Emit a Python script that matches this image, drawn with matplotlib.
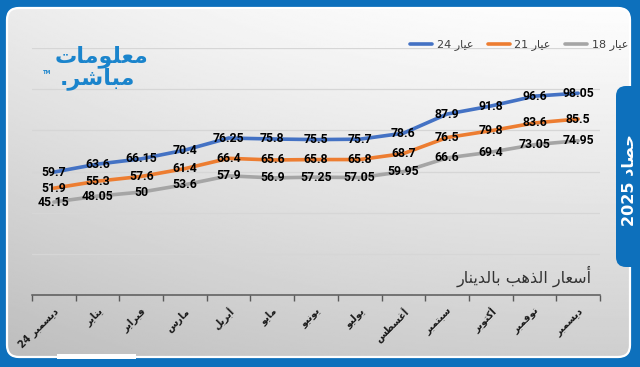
import numpy as np
import matplotlib
matplotlib.use("Agg")
import matplotlib.pyplot as plt
from matplotlib.patches import FancyBboxPatch, Rectangle

# ---------------- data ----------------
months = ["ديسمبر 24", "يناير", "فبراير", "مارس", "أبريل", "مايو", "يونيو",
          "يوليو", "أغسطس", "سبتمبر", "أكتوبر", "نوفمبر", "ديسمبر"]
series_names = ["عيار 24", "عيار 21", "عيار 18"]
k24 = [59.7, 63.6, 66.15, 70.4, 76.25, 75.8, 75.5, 75.7, 78.6, 87.9, 91.8, 96.6, 98.05]
k21 = [51.9, 55.3, 57.6, 61.4, 66.4, 65.6, 65.8, 65.8, 68.7, 76.5, 79.8, 83.6, 85.5]
k18 = [45.15, 48.05, 50, 53.6, 57.9, 56.9, 57.25, 57.05, 59.95, 66.6, 69.4, 73.05, 74.95]
title = "أسعار الذهب بالدينار"
tab_text = "حصاد 2025"
logo1 = "معلومات"
logo2 = "مباشر."
colors = ["#4472C4", "#ED7D31", "#A5A5A5"]

# ---------------- minimal Arabic shaping ----------------
FORMS = {
    '\u0621': ('\uFE80', None, None, None),
    '\u0622': ('\uFE81', '\uFE82', None, None),
    '\u0623': ('\uFE83', '\uFE84', None, None),
    '\u0624': ('\uFE85', '\uFE86', None, None),
    '\u0625': ('\uFE87', '\uFE88', None, None),
    '\u0626': ('\uFE89', '\uFE8A', '\uFE8B', '\uFE8C'),
    '\u0627': ('\uFE8D', '\uFE8E', None, None),
    '\u0628': ('\uFE8F', '\uFE90', '\uFE91', '\uFE92'),
    '\u0629': ('\uFE93', '\uFE94', None, None),
    '\u062A': ('\uFE95', '\uFE96', '\uFE97', '\uFE98'),
    '\u062B': ('\uFE99', '\uFE9A', '\uFE9B', '\uFE9C'),
    '\u062C': ('\uFE9D', '\uFE9E', '\uFE9F', '\uFEA0'),
    '\u062D': ('\uFEA1', '\uFEA2', '\uFEA3', '\uFEA4'),
    '\u062E': ('\uFEA5', '\uFEA6', '\uFEA7', '\uFEA8'),
    '\u062F': ('\uFEA9', '\uFEAA', None, None),
    '\u0630': ('\uFEAB', '\uFEAC', None, None),
    '\u0631': ('\uFEAD', '\uFEAE', None, None),
    '\u0632': ('\uFEAF', '\uFEB0', None, None),
    '\u0633': ('\uFEB1', '\uFEB2', '\uFEB3', '\uFEB4'),
    '\u0634': ('\uFEB5', '\uFEB6', '\uFEB7', '\uFEB8'),
    '\u0635': ('\uFEB9', '\uFEBA', '\uFEBB', '\uFEBC'),
    '\u0636': ('\uFEBD', '\uFEBE', '\uFEBF', '\uFEC0'),
    '\u0637': ('\uFEC1', '\uFEC2', '\uFEC3', '\uFEC4'),
    '\u0638': ('\uFEC5', '\uFEC6', '\uFEC7', '\uFEC8'),
    '\u0639': ('\uFEC9', '\uFECA', '\uFECB', '\uFECC'),
    '\u063A': ('\uFECD', '\uFECE', '\uFECF', '\uFED0'),
    '\u0641': ('\uFED1', '\uFED2', '\uFED3', '\uFED4'),
    '\u0642': ('\uFED5', '\uFED6', '\uFED7', '\uFED8'),
    '\u0643': ('\uFED9', '\uFEDA', '\uFEDB', '\uFEDC'),
    '\u0644': ('\uFEDD', '\uFEDE', '\uFEDF', '\uFEE0'),
    '\u0645': ('\uFEE1', '\uFEE2', '\uFEE3', '\uFEE4'),
    '\u0646': ('\uFEE5', '\uFEE6', '\uFEE7', '\uFEE8'),
    '\u0647': ('\uFEE9', '\uFEEA', '\uFEEB', '\uFEEC'),
    '\u0648': ('\uFEED', '\uFEEE', None, None),
    '\u0649': ('\uFEEF', '\uFEF0', None, None),
    '\u064A': ('\uFEF1', '\uFEF2', '\uFEF3', '\uFEF4'),
}
LAM_ALEF = {'\u0622': ('\uFEF5', '\uFEF6'), '\u0623': ('\uFEF7', '\uFEF8'),
            '\u0625': ('\uFEF9', '\uFEFA'), '\u0627': ('\uFEFB', '\uFEFC')}


def _dual(c):
    return c in FORMS and FORMS[c][2] is not None


def _shape(word):
    out = []
    i = 0
    n = len(word)
    while i < n:
        c = word[i]
        if c not in FORMS:
            out.append(c)
            i += 1
            continue
        prev = word[i - 1] if i > 0 else ''
        cp = _dual(prev)
        if c == '\u0644' and i + 1 < n and word[i + 1] in LAM_ALEF:
            out.append(LAM_ALEF[word[i + 1]][1 if cp else 0])
            i += 2
            continue
        nxt = word[i + 1] if i + 1 < n else ''
        cn = _dual(c) and nxt in FORMS
        iso, fin, ini, med = FORMS[c]
        if cp and cn:
            out.append(med)
        elif cp:
            out.append(fin)
        elif cn:
            out.append(ini)
        else:
            out.append(iso)
        i += 1
    return ''.join(out)


def ar(text):
    vis = []
    for t in text.split(' '):
        if any(ch in FORMS for ch in t):
            vis.append(_shape(t)[::-1])
        else:
            vis.append(t)
    return ' '.join(vis[::-1])


# ---------------- figure ----------------
W, H = 640, 367
fig = plt.figure(figsize=(W / 100, H / 100), dpi=100)

bg = fig.add_axes([0, 0, 1, 1], zorder=0)
bg.set_xlim(0, W)
bg.set_ylim(H, 0)
bg.axis('off')

blue = "#0d70bc"
bg.add_patch(Rectangle((0, 0), W, H, facecolor=blue, edgecolor='none'))

px0, py0, px1, py1, r = 7, 8, 630, 357, 12
panel = FancyBboxPatch((px0 + r, py0 + r), (px1 - px0) - 2 * r, (py1 - py0) - 2 * r,
                       boxstyle="round,pad=%d" % r, facecolor='none',
                       edgecolor='white', linewidth=1.6, zorder=3)
bg.add_patch(panel)
yy, xx = np.mgrid[0:1:200j, 0:1:300j]
grad = 0.99 - 0.18 * yy ** 1.1 - 0.07 * (1 - xx) ** 2
grad = np.clip(grad, 0, 1)
im = bg.imshow(grad, extent=(px0, px1, py1, py0), cmap='gray', vmin=0, vmax=1,
               aspect='auto', zorder=1, interpolation='bilinear')
clip = FancyBboxPatch((px0 + r, py0 + r), (px1 - px0) - 2 * r, (py1 - py0) - 2 * r,
                      boxstyle="round,pad=%d" % r, facecolor='none', edgecolor='none')
bg.add_patch(clip)
im.set_clip_path(clip)

# white bar at the bottom
bg.add_patch(Rectangle((57, 354), 79, 5, facecolor='white', edgecolor='none', zorder=4))

# right tab
tab = FancyBboxPatch((616 + 10, 86 + 10), 40, 181 - 20, boxstyle="round,pad=10",
                     facecolor=blue, edgecolor='none', zorder=5)
bg.add_patch(tab)
fig.text(629 / W, 1 - 180 / H, ar(tab_text), rotation=90, ha='center', va='center',
         color='white', fontsize=11.5, fontweight='bold', family='DejaVu Sans', zorder=6)

# logo
fig.text(148 / W, 1 - 57 / H, ar(logo1), ha='right', va='center', color='#1a84cc',
         fontsize=16, fontweight='bold', family='DejaVu Sans')
fig.text(135 / W, 1 - 79 / H, ar(logo2), ha='right', va='center', color='#1a84cc',
         fontsize=16, fontweight='bold', family='DejaVu Sans')
fig.text(47 / W, 1 - 73 / H, "TM", ha='center', va='center', color='#1a84cc',
         fontsize=3.5, fontweight='bold')

# ---------------- main chart ----------------
ax = fig.add_axes([32 / W, 1 - 295 / H, 568 / W, (295 - 48) / H], zorder=2)
ax.patch.set_alpha(0)
x = np.arange(len(months))
lines = []
for vals, col, name in zip([k24, k21, k18], colors, series_names):
    ln, = ax.plot(x, vals, color=col, linewidth=2.6, solid_capstyle='round',
                  solid_joinstyle='round', zorder=3, label=ar(name))
    lines.append(ln)
    for xi, v in zip(x, vals):
        ax.text(xi, v, '{:g}'.format(v), ha='center', va='center', fontsize=8.8,
                fontweight='bold', family='Roboto', color='black', zorder=5)

ax.set_xlim(-0.5, len(months) - 0.5)
ax.set_ylim(0, 120)
ax.set_yticks(np.arange(20, 121, 20))
ax.yaxis.grid(True, color='#d6d6d6', linewidth=0.9)
ax.set_axisbelow(True)
ax.tick_params(axis='y', length=0, labelleft=False)
for s in ['top', 'right', 'left']:
    ax.spines[s].set_visible(False)
ax.spines['bottom'].set_color('#595959')
ax.spines['bottom'].set_linewidth(1.1)

ax.set_xticks(x)
ax.set_xticklabels([ar(m) for m in months], fontsize=7, fontweight='bold',
                   family='DejaVu Sans', color='#1a1a1a')
ax.set_xticks(np.arange(-0.5, len(months), 1.0), minor=True)
ax.tick_params(axis='x', which='major', length=0, pad=8)
ax.tick_params(axis='x', which='minor', length=4, width=1, color='#595959', direction='out')
plt.setp(ax.get_xticklabels(), rotation=45, ha='right', rotation_mode='anchor')

fig.text(592 / W, 1 - 276 / H, ar(title), ha='right', va='center', fontsize=11.5,
         color='#333333', family='DejaVu Sans')

leg = ax.legend(handles=lines, loc='center left', bbox_to_anchor=(410 / W, 1 - 45 / H),
                bbox_transform=fig.transFigure, ncol=3, frameon=False, fontsize=8,
                handlelength=2.0, handletextpad=0.4, columnspacing=1.3,
                borderpad=0, borderaxespad=0)
for t in leg.get_texts():
    t.set_color('#404040')

fig.savefig("out.png", dpi=100)
